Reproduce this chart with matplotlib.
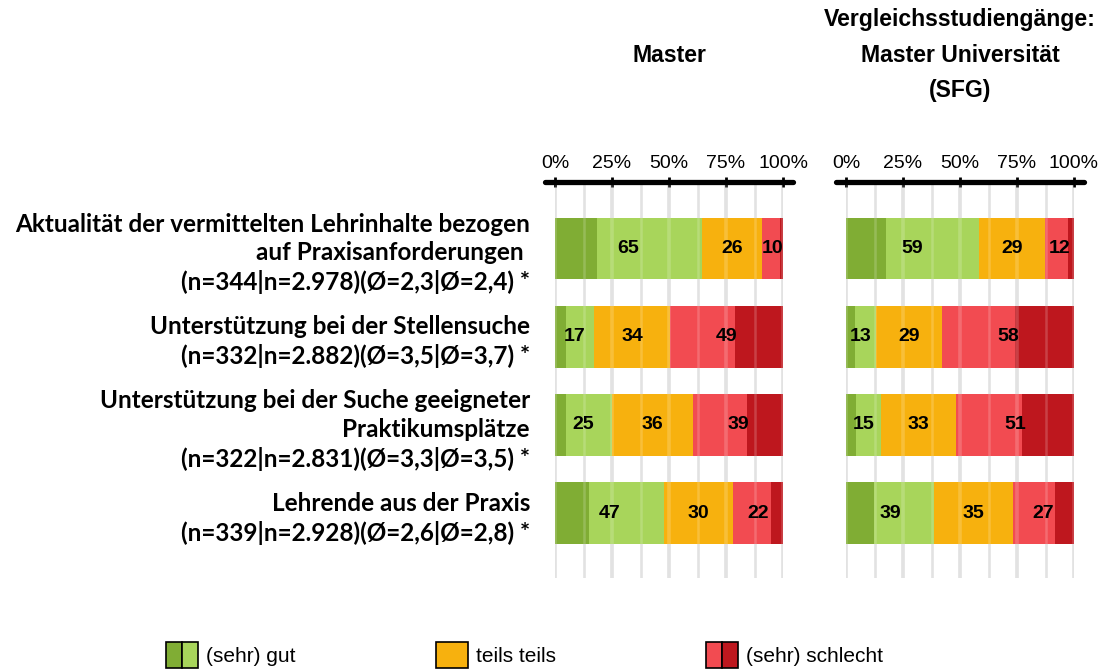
import matplotlib.pyplot as plt
from matplotlib.patches import Patch
from matplotlib.legend_handler import HandlerTuple
import numpy as np

# categories (top to bottom)
labels = [
    "Aktualität der vermittelten Lehrinhalte bezogen\nauf Praxisanforderungen \n(n=344|n=2.978)(Ø=2,3|Ø=2,4) *",
    "Unterstützung bei der Stellensuche\n(n=332|n=2.882)(Ø=3,5|Ø=3,7) *",
    "Unterstützung bei der Suche geeigneter\nPraktikumsplätze\n(n=322|n=2.831)(Ø=3,3|Ø=3,5) *",
    "Lehrende aus der Praxis\n(n=339|n=2.928)(Ø=2,6|Ø=2,8) *",
]

# segment shares in %: sehr gut, gut, teils teils, schlecht, sehr schlecht
master_sehr_gut = [18.3, 4.8, 4.8, 15.0]
master_gut = [46.2, 12.1, 20.3, 32.6]
master_teils = [26.1, 33.7, 35.6, 30.3]
master_schlecht = [8.0, 28.2, 23.3, 16.7]
master_sehr_schlecht = [1.4, 21.2, 16.0, 5.4]

vgl_sehr_gut = [17.5, 3.9, 4.4, 12.3]
vgl_gut = [40.8, 9.1, 11.1, 26.2]
vgl_teils = [29.1, 29.1, 32.7, 34.8]
vgl_schlecht = [10.0, 32.2, 29.0, 18.4]
vgl_sehr_schlecht = [2.6, 25.7, 22.8, 8.3]

# printed values (gut total, teils, schlecht total)
master_lbl_gut = [65, 17, 25, 47]
master_lbl_teils = [26, 34, 36, 30]
master_lbl_schlecht = [10, 49, 39, 22]
vgl_lbl_gut = [59, 13, 15, 39]
vgl_lbl_teils = [29, 29, 33, 35]
vgl_lbl_schlecht = [12, 58, 51, 27]

titles = ["Master", "Vergleichsstudiengänge:\nMaster Universität\n(SFG)"]
xticks = [0, 25, 50, 75, 100]
xticklabels = ["0%", "25%", "50%", "75%", "100%"]
gridpos = np.arange(0, 101, 12.5)
legend_names = ["(sehr) gut", "teils teils", "(sehr) schlecht"]

c_dgreen = "#80AD34"
c_lgreen = "#A8D55B"
c_orange = "#F7B10E"
c_lred = "#F24B51"
c_dred = "#BE171E"

plt.rcParams['font.family'] = ['Liberation Sans', 'DejaVu Sans']

fig = plt.figure(figsize=(11.18, 6.72), dpi=100)
ax1 = fig.add_axes([555/1118, 1 - 578/672, 228/1118, 396/672])
ax2 = fig.add_axes([846/1118, 1 - 578/672, 228/1118, 396/672])

panels = [
    (ax1, [master_sehr_gut, master_gut, master_teils, master_schlecht, master_sehr_schlecht],
     [master_lbl_gut, master_lbl_teils, master_lbl_schlecht]),
    (ax2, [vgl_sehr_gut, vgl_gut, vgl_teils, vgl_schlecht, vgl_sehr_schlecht],
     [vgl_lbl_gut, vgl_lbl_teils, vgl_lbl_schlecht]),
]
colors = [c_dgreen, c_lgreen, c_orange, c_lred, c_dred]
y = np.arange(len(labels))
top = -0.754
bottom = 3.737
gw = [2.6 if p % 25 == 0 else 1.8 for p in gridpos]

for i, (ax, segs, lbls) in enumerate(panels):
    # grey grid behind the bars
    ax.vlines(gridpos, bottom, top, colors='#DCDCDC', linewidths=gw, zorder=0)
    left = np.zeros(len(labels))
    for vals, col in zip(segs, colors):
        ax.barh(y, vals, left=left, height=0.70, color=col, zorder=1)
        left = left + np.array(vals)
    # faint light lines showing through the bars
    ax.vlines(gridpos, bottom, top, colors='white', alpha=0.18, linewidths=gw, zorder=2)
    segs = [np.array(s) for s in segs]
    g = segs[0] + segs[1]
    t = segs[2]
    s = segs[3] + segs[4]
    centers = [g / 2, g + t / 2, g + t + s / 2]
    for cx, lv in zip(centers, lbls):
        for yy, xx, v in zip(y, cx, lv):
            ax.text(xx, yy, str(v), ha='center', va='center', fontsize=14,
                    fontweight='bold', color='black', zorder=4)

    ax.set_xlim(0, 100)
    ax.set_ylim(bottom, top)
    ax.xaxis.tick_top()
    ax.set_xticks(xticks)
    ax.set_xticklabels(xticklabels, fontsize=14)
    ax.tick_params(axis='x', which='major', direction='inout', length=7, width=2,
                   color='black', pad=4)
    for sp in ax.spines.values():
        sp.set_visible(False)
    ax.axhline(top, xmin=-0.042, xmax=1.042, color='black', lw=3.8,
               solid_capstyle='round', clip_on=False, zorder=5)
    ax.set_yticks(y)
    if i == 0:
        ax.set_yticklabels(labels, fontsize=17.5, fontweight='bold', family='Lato',
                           ha='right', multialignment='right', linespacing=1.3)
        ax.tick_params(axis='y', length=0, pad=18)
    else:
        ax.set_yticklabels([])
        ax.tick_params(axis='y', length=0)
    ax.text(0.5, 1.3207, titles[i], transform=ax.transAxes, ha='center', va='center',
            fontsize=16.6, fontweight='bold', linespacing=1.7)

handles = [
    (Patch(facecolor=c_dgreen, edgecolor='black', lw=1.2),
     Patch(facecolor=c_lgreen, edgecolor='black', lw=1.2)),
    Patch(facecolor=c_orange, edgecolor='black', lw=1.2),
    (Patch(facecolor=c_lred, edgecolor='black', lw=1.2),
     Patch(facecolor=c_dred, edgecolor='black', lw=1.2)),
]
# one legend per entry so each sits where it does in the original
for h, name, x0 in zip(handles, legend_names, [166, 436, 706]):
    fig.legend([h], [name],
               handler_map={tuple: HandlerTuple(ndivide=None, pad=0)},
               loc='center left', bbox_to_anchor=(x0/1118, 1 - 655/672),
               frameon=False, fontsize=15, handlelength=1.54, handleheight=1.6,
               handletextpad=0.4, borderpad=0, borderaxespad=0)

fig.savefig("out.png", dpi=100, facecolor='white')
